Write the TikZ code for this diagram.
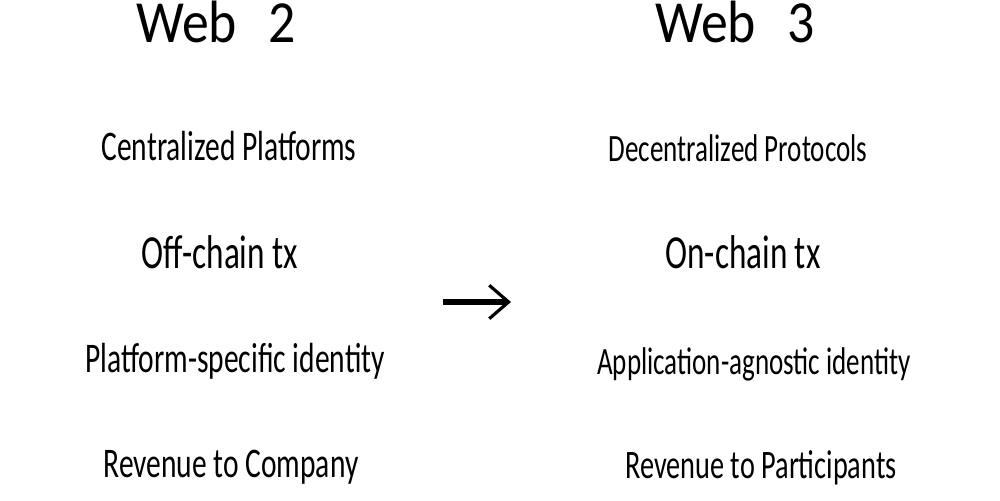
\documentclass[tikz,border=0pt]{standalone}
\usepackage{fontspec}
\setmainfont{Carlito}
\newfontfamily\handfont[FakeStretch=0.7]{Carlito}
\newfontfamily\titlefont[FakeStretch=0.9]{Carlito}
\usetikzlibrary{arrows.meta,positioning}

\begin{document}
\begin{tikzpicture}[
    x=0.02cm, y=-0.02cm,
    title/.style={anchor=base, font=\titlefont\fontsize{34}{38}\selectfont, inner sep=0pt},
    item/.style={anchor=base, font=\handfont\fontsize{#1}{28}\selectfont, inner sep=0pt},
    item/.default=24,
    arrow/.style={-{Straight Barb[length=11pt, width=19pt, line width=1.8pt]}, line width=3pt}
]
\useasboundingbox (0,0) rectangle (1000,500);

% column titles
\node[title] (w2) at (216, 43) {Web\hspace{18pt}2};
\node[title] (w3) at (735, 43) {Web\hspace{18pt}3};

% web 2 column
\node[item] (c1) at (229, 160) {Centralized Platforms};
\node[item=27] (c2) at (220, 268) {Off-chain tx};
\node[item] (c3) at (235, 372) {Platform-specific identity};
\node[item] (c4) at (231, 477) {Revenue to Company};

% web 3 column
\node[item=22] (d1) at (738, 161) {Decentralized Protocols};
\node[item=27] (d2) at (743, 268) {On-chain tx};
\node[item=22] (d3) at (754, 374) {Application-agnostic identity};
\node[item=23] (d4) at (761, 478) {Revenue to Participants};

% transition arrow
\coordinate (from) at (443, 302);
\coordinate (to) at (511, 302);
\draw[arrow] (from) -- (to);
\end{tikzpicture}
\end{document}
